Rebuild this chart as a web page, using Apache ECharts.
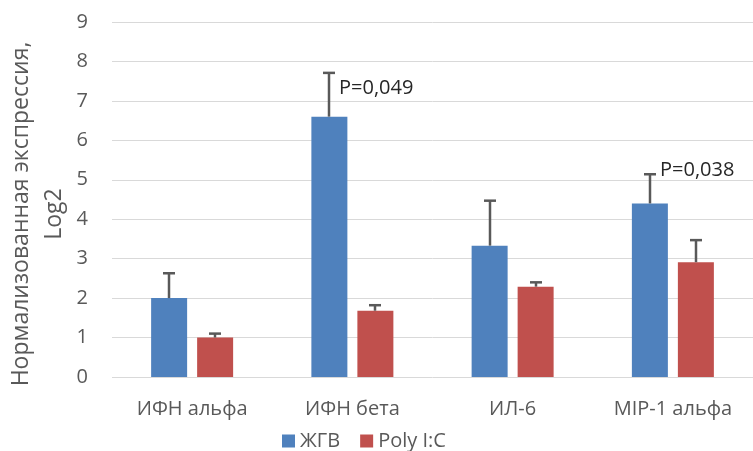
<!DOCTYPE html>
<html><head><meta charset="utf-8">
<script src="https://cdn.jsdelivr.net/npm/echarts@6/dist/echarts.min.js"></script>
<style>html,body{margin:0;padding:0;background:#fff}#c{width:753px;height:451px}</style>
</head><body><div id="c"></div>
<script>
const categories = ['ИФН альфа', 'ИФН бета', 'ИЛ-6', 'MIP-1 альфа'];
const seriesNames = ['ЖГВ', 'Poly I:C'];
const zhgvValues = [2.0, 6.6, 3.33, 4.4];
const zhgvErrors = [0.63, 1.11, 1.14, 0.74];
const polyValues = [1.0, 1.68, 2.29, 2.91];
const polyErrors = [0.1, 0.14, 0.11, 0.56];
const pLabels = ['', 'P=0,049', '', 'P=0,038'];
const pLabelY = [null, 7.33, null, 5.25];
const yTicks = [0, 1, 2, 3, 4, 5, 6, 7, 8, 9];
const yTitle = 'Нормализованная экспрессия,\nLog2';

const FONT = '"Open Sans", "Noto Sans", sans-serif';
const BAR_W = 36, GAP = 10;
const OFFSET = (BAR_W + GAP) / 2;

function errorSeries(values, errors, sign, withLabels) {
  return {
    type: 'custom',
    silent: true,
    z: 5,
    data: values.map((v, i) => [i, v, v + errors[i]]),
    renderItem: function (params, api) {
      const i = api.value(0);
      const base = api.coord([i, api.value(1)]);
      const top = api.coord([i, api.value(2)]);
      const x = Math.round(base[0] + sign * OFFSET);
      const children = [
        { type: 'line', shape: { x1: x, y1: base[1], x2: x, y2: top[1] }, style: { stroke: '#595959', lineWidth: 2.5 } },
        { type: 'line', shape: { x1: x - 6, y1: top[1], x2: x + 6, y2: top[1] }, style: { stroke: '#595959', lineWidth: 2.5 } }
      ];
      if (withLabels && pLabels[i]) {
        const ly = api.coord([i, pLabelY[i]])[1];
        children.push({ type: 'text', x: x + 10, y: ly, style: { text: pLabels[i], fill: '#262626', font: '20px ' + FONT, textVerticalAlign: 'middle', textAlign: 'left' } });
      }
      return { type: 'group', children: children };
    }
  };
}

const chart = echarts.init(document.getElementById('c'));
chart.setOption({
  animation: false,
  textStyle: { fontFamily: FONT },
  grid: { left: 112, right: 0, top: 22, bottom: 74, containLabel: false, outerBoundsMode: 'none' },
  graphic: [{
    type: 'text', x: 38, y: 214, rotation: Math.PI / 2, silent: true,
    style: { text: yTitle, fill: '#595959', fontSize: 23, lineHeight: 33, fontFamily: FONT, align: 'center', verticalAlign: 'middle' }
  }],
  legend: {
    data: seriesNames, top: 429, left: 282, padding: 0, itemWidth: 13, itemHeight: 13, itemGap: 20,
    icon: 'rect', textStyle: { fontSize: 20, lineHeight: 24, color: '#595959', fontFamily: FONT }
  },
  xAxis: {
    type: 'category', data: categories,
    axisLine: { show: false }, axisTick: { show: false },
    axisLabel: { fontSize: 20, color: '#595959', margin: 22, fontFamily: FONT }
  },
  yAxis: {
    type: 'value', min: yTicks[0], max: yTicks[yTicks.length - 1], interval: 1,
    axisLine: { show: false }, axisTick: { show: false },
    axisLabel: { fontSize: 20, color: '#595959', margin: 24, fontFamily: FONT },
    splitLine: { lineStyle: { color: '#d9d9d9', width: 1 } }
  },
  series: [
    { name: seriesNames[0], type: 'bar', data: zhgvValues, barWidth: BAR_W, barGap: (GAP / BAR_W * 100) + '%', itemStyle: { color: '#4F81BD' } },
    { name: seriesNames[1], type: 'bar', data: polyValues, barWidth: BAR_W, itemStyle: { color: '#C0504D' } },
    errorSeries(zhgvValues, zhgvErrors, -1, true),
    errorSeries(polyValues, polyErrors, 1, false)
  ]
});
</script></body></html>
